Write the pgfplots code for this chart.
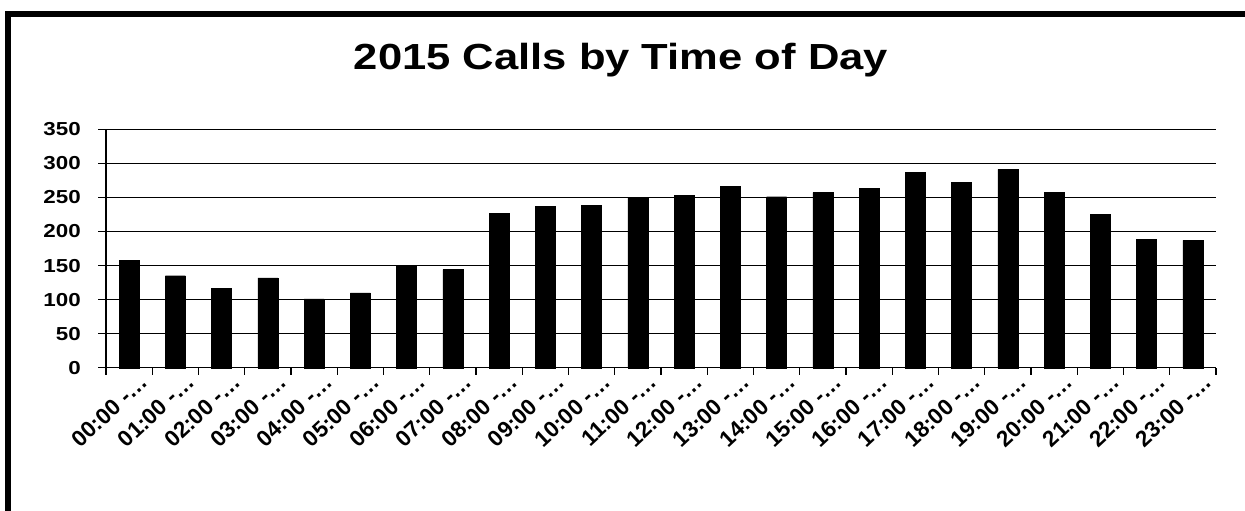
\documentclass[border=0pt]{standalone}
\usepackage{fontspec}
\setmainfont{Liberation Sans}
\usepackage{pgfplots}
\pgfplotsset{compat=1.18}

\pgfplotstableread{
hour calls
0 158
1 135
2 116
3 132
4 101
5 110
6 149
7 144
8 227
9 237
10 238
11 249
12 253
13 266
14 251
15 257
16 263
17 287
18 272
19 291
20 257
21 225
22 188
23 187
}\calls

\begin{document}
\begin{tikzpicture}[x=1pt,y=1pt]
\useasboundingbox (0,0) rectangle (1245,-511);
% frame, cut off at right and bottom as in the scan
\draw[line width=5.5pt] (8,-530) -- (8,-14) -- (1260,-14);
% the scan is stretched sideways, hence xscale on the texts
\node[font=\bfseries\fontsize{36.3}{36.3}\selectfont, anchor=base, xscale=1.2] at (621,-69.3) {2015 Calls by Time of Day};
\begin{axis}[
  at={(106pt,-367.7pt)}, anchor=south west,
  scale only axis, width=1110pt, height=238.4pt,
  xmin=-0.5, xmax=23.5, ymin=0, ymax=350,
  ytick={0,50,...,350},
  xtick={0,...,23},
  xticklabels={00:00 -…,01:00 -…,02:00 -…,03:00 -…,04:00 -…,05:00 -…,06:00 -…,07:00 -…,08:00 -…,09:00 -…,10:00 -…,11:00 -…,12:00 -…,13:00 -…,14:00 -…,15:00 -…,16:00 -…,17:00 -…,18:00 -…,19:00 -…,20:00 -…,21:00 -…,22:00 -…,23:00 -…},
  minor xtick={-0.5,0.5,...,23.5},
  axis x line*=bottom, axis y line*=left,
  axis line style={black, line width=1.5pt, -},
  ymajorgrids, major grid style={black, line width=1.2pt},
  tick align=outside,
  major tick style={black, line width=1.2pt},
  minor tick style={black, line width=1.2pt},
  major tick length=8pt, minor tick length=7pt,
  xtick style={draw=none},
  minor x tick style={draw=black},
  /pgf/number format/assume math mode=true,
  ticklabel style={font=\bfseries\fontsize{18.8}{18.8}\selectfont},
  yticklabel style={xshift=-13pt, xscale=1.19},
  xticklabel style={font=\bfseries\fontsize{22.5}{22.5}\selectfont, xshift=15pt, yshift=-3pt, rotate=43, anchor=east, inner sep=0pt},
  ybar, bar width=20pt,
  clip=false,
]
\addplot[fill=black, draw=black] table[x=hour, y=calls] {\calls};
\end{axis}
\end{tikzpicture}
\end{document}
